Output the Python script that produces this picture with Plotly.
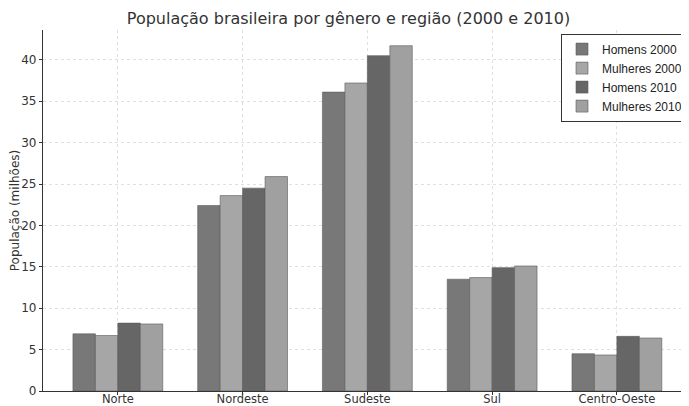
import plotly.graph_objects as go

regioes = ["Norte", "Nordeste", "Sudeste", "Sul", "Centro-Oeste"]
homens_2000 = [6.9, 22.4, 36.1, 13.5, 4.5]
mulheres_2000 = [6.7, 23.6, 37.2, 13.7, 4.35]
homens_2010 = [8.2, 24.5, 40.5, 14.9, 6.6]
mulheres_2010 = [8.1, 25.9, 41.7, 15.1, 6.4]

series = [
    ("Homens 2000", homens_2000, "#787878"),
    ("Mulheres 2000", mulheres_2000, "#a6a6a6"),
    ("Homens 2010", homens_2010, "#666666"),
    ("Mulheres 2010", mulheres_2010, "#a0a0a0"),
]

fig = go.Figure()
for name, vals, col in series:
    fig.add_trace(go.Bar(
        x=regioes, y=vals, name=name,
        marker=dict(color=col, line=dict(color="#5a5a5a", width=0.6)),
    ))

# page body has an 8px margin; size the figure to fit the 689x406 window
fig.update_layout(
    width=681, height=398,
    margin=dict(l=35, r=1, t=22, b=15),
    paper_bgcolor="white", plot_bgcolor="white",
    barmode="group", bargap=0.28, bargroupgap=0,
    font=dict(family="DejaVu Sans", color="#333333", size=12),
    title=dict(text="População brasileira por gênero e região (2000 e 2010)",
               x=0.5, xanchor="center", y=0.975, yanchor="middle",
               font=dict(size=16, color="#333333")),
    legend=dict(x=1.0, y=0.99, xanchor="right", yanchor="top",
                bgcolor="white", bordercolor="#333333", borderwidth=1,
                font=dict(family="Liberation Sans", size=12, color="#222222"),
                itemwidth=30, tracegroupgap=0),
    showlegend=True,
)
fig.update_xaxes(
    range=[-0.6, 4.57], showline=True, linecolor="#333333", linewidth=1.2,
    showgrid=True, gridcolor="#e0e0e0", griddash="dot", gridwidth=1,
    ticks="outside", ticklen=3, tickcolor="#333333", ticklabelstandoff=-6,
    tickfont=dict(size=11.5, color="#333333"), automargin=False,
)
fig.update_yaxes(
    range=[0, 43.6], dtick=5, showline=True, linecolor="#333333", linewidth=1.2,
    showgrid=True, gridcolor="#e0e0e0", griddash="dot", gridwidth=1,
    ticks="outside", ticklen=3, tickcolor="#333333", zeroline=False,
    tickfont=dict(size=12, color="#333333"), automargin=False,
    title=dict(text="População (milhões)", font=dict(size=12, color="#333333"), standoff=5),
)

fig.write_html("out.html")
